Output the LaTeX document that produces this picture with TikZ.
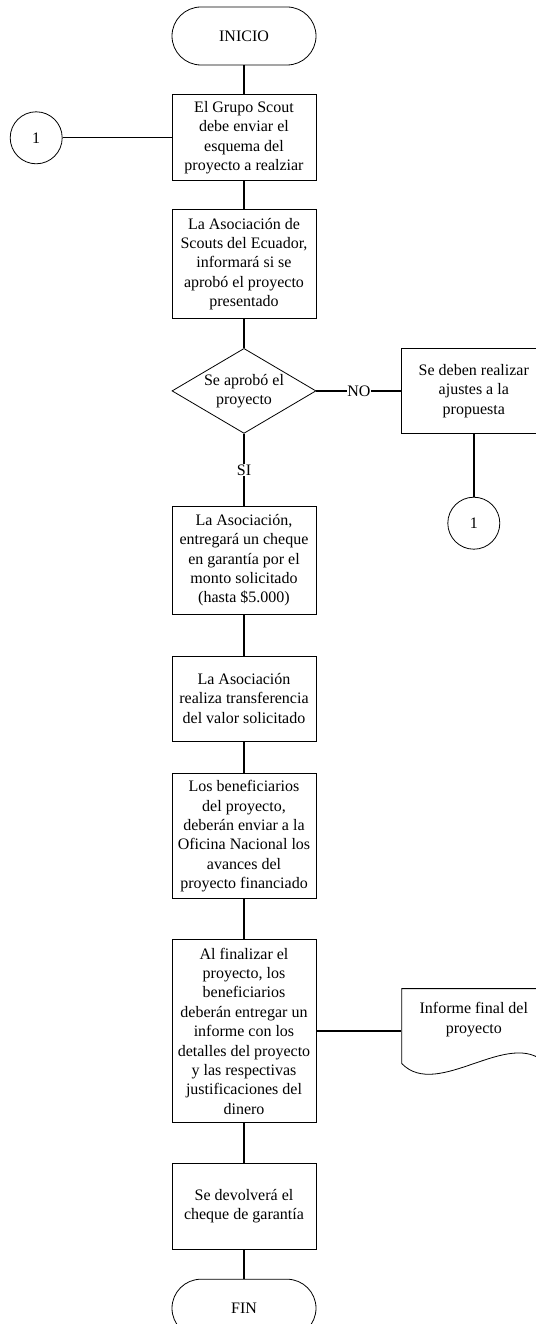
\documentclass[tikz,border=0pt]{standalone}
\usepackage{fontspec}
\setmainfont{Liberation Serif}
\usepackage{tikz}
\usetikzlibrary{positioning, shapes.geometric, calc}
\tikzset{
  blk/.style={draw, line width=0.8pt, align=center, inner sep=2pt,
              font=\fontsize{16pt}{19.4pt}\selectfont, minimum width=144pt},
  proc/.style={blk},
  term/.style={blk, rounded corners=29pt, minimum height=58pt},
  dec/.style={blk, diamond, aspect=1.7, inner sep=0pt, minimum height=85pt},
  con/.style={blk, circle, minimum width=52pt, minimum size=52pt},
  doctxt/.style={blk, draw=none},
  lin/.style={line width=1.4pt},
  lbl/.style={fill=white, inner sep=0.5pt, font=\fontsize{16pt}{19.4pt}\selectfont},
}
\begin{document}
\begin{tikzpicture}[x=1pt, y=1pt]
  \useasboundingbox (0,0) rectangle (535,-1324);
  % eje principal
  \node[term](ini) at (244,-36) {INICIO};
  \node[proc, below=29pt of ini, minimum height=86pt](p1){El Grupo Scout\\debe enviar el\\esquema del\\proyecto a realziar};
  \node[proc, below=28pt of p1, minimum height=109pt](p2){La Asociación de\\Scouts del Ecuador,\\informará si se\\aprobó el proyecto\\presentado};
  \node[dec, below=29pt of p2](q){Se aprobó el\\proyecto};
  \node[proc, below=72pt of q, minimum height=108pt](p3){La Asociación,\\entregará un cheque\\en garantía por el\\monto solicitado\\(hasta \$5.000)};
  \node[proc, below=41pt of p3, minimum height=85pt](p4){La Asociación\\realiza transferencia\\del valor solicitado};
  \node[proc, below=32pt of p4, minimum height=125pt](p5){Los beneficiarios\\del proyecto,\\deberán enviar a la\\Oficina Nacional los\\avances del\\proyecto financiado};
  \node[proc, below=40pt of p5, minimum height=183pt](p6){Al finalizar el\\proyecto, los\\beneficiarios\\deberán entregar un\\informe con los\\detalles del proyecto\\y las respectivas\\justificaciones del\\dinero};
  \node[proc, below=40pt of p6, minimum height=86pt](p7){Se devolverá el\\cheque de garantía};
  \node[term, below=29pt of p7](fin){FIN};
  % rama NO y conectores
  \node[proc, right=85pt of q, minimum height=85pt](aj){Se deben realizar\\ajustes a la\\propuesta};
  \node[con, below=63pt of aj](c2){1};
  \node[con, left=109pt of p1](c1){1};
  % documento
  \node[doctxt, right=85pt of p6, yshift=11.5pt](inf){Informe final del\\proyecto};
  \draw[line width=0.8pt] ($(inf)+(-72,31)$) -- ($(inf)+(72,31)$) -- ($(inf)+(72,-44)$)
    .. controls ($(inf)+(36,-7)$) and ($(inf)+(-36,-81)$) .. ($(inf)+(-72,-44)$) -- cycle;

  \draw[lin](ini)--(p1); \draw[lin](p1)--(p2); \draw[lin](p2)--(q);
  \draw[lin](q)--node[lbl]{SI}(p3); \draw[lin](p3)--(p4); \draw[lin](p4)--(p5);
  \draw[lin](p5)--(p6); \draw[lin](p6)--(p7); \draw[lin](p7)--(fin);
  \draw[lin](q)--node[lbl]{NO}(aj); \draw[lin](aj)--(c2); \draw[lin](c1)--(p1);
  \draw[lin](p6.east)--(p6.east -| inf.west);
\end{tikzpicture}
\end{document}
